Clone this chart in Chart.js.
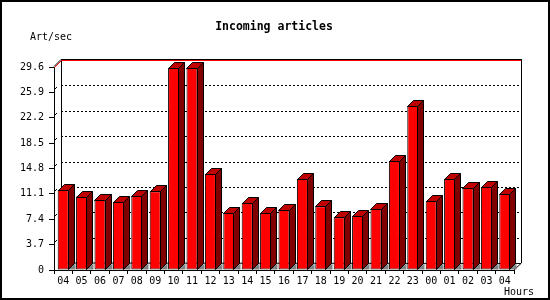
<!DOCTYPE html>
<html lang="en">
<head>
  <meta charset="UTF-8">
  <title>Incoming articles</title>
  <script src="https://cdn.jsdelivr.net/npm/chart.js"></script>
  <style>
    body { margin: 0; background: #fff; }
    #chart-container { width: 550px; height: 300px; }
  </style>
</head>
<body>

<div id="chart-container">
  <canvas id="chart" width="550" height="300"></canvas>
</div>

<script>
  // hours of the day (x axis) and incoming articles per second
  const hours = ['04', '05', '06', '07', '08', '09', '10', '11', '12', '13', '14', '15', '16',
                 '17', '18', '19', '20', '21', '22', '23', '00', '01', '02', '03', '04'];
  const artPerSec = [11.7, 10.7, 10.2, 9.9, 10.8, 11.5, 29.5, 29.5, 14.0, 8.3, 9.8, 8.3, 8.8,
                     13.3, 9.3, 7.7, 7.9, 8.9, 15.9, 23.9, 10.1, 13.3, 12.0, 12.1, 11.1];
  const yTicks = [0, 3.7, 7.4, 11.1, 14.8, 18.5, 22.2, 25.9, 29.6];

  const titleText = 'Incoming articles';
  const yUnit = 'Art/sec';
  const xUnit = 'Hours';

  const DEPTH = 7;      // depth of the back wall
  const BAR_DEPTH = 6;  // depth of each bar
  const monoFont = '"DejaVu Sans Mono", "Liberation Mono", monospace';

  // back wall, grid lines, 3d bar faces, texts and border
  const pseudo3d = {
    id: 'pseudo3d',
    beforeDatasetsDraw(chart) {
      const ctx = chart.ctx;
      const area = chart.chartArea;
      const y = chart.scales.y;
      ctx.save();
      ctx.lineWidth = 1;

      // dotted grid lines on the back wall
      ctx.strokeStyle = '#000';
      ctx.setLineDash([2, 2]);
      yTicks.slice(1, -1).forEach(v => {
        const py = Math.round(y.getPixelForValue(v)) - DEPTH + 0.5;
        ctx.beginPath();
        ctx.moveTo(area.left + DEPTH, py);
        ctx.lineTo(area.right + DEPTH, py);
        ctx.stroke();
      });
      ctx.setLineDash([]);

      // walls
      const top = Math.round(area.top) - DEPTH;
      const bottom = Math.round(area.bottom) - DEPTH;
      ctx.beginPath();
      ctx.moveTo(area.left + DEPTH + 0.5, top);
      ctx.lineTo(area.left + DEPTH + 0.5, bottom);
      ctx.lineTo(area.right + DEPTH, bottom + 0.5);
      ctx.moveTo(area.right + DEPTH + 0.5, top);
      ctx.lineTo(area.right + DEPTH + 0.5, bottom);
      ctx.lineTo(area.right, area.bottom);
      ctx.stroke();

      // top line (max value), black with red under it
      ctx.beginPath();
      ctx.moveTo(area.left, area.top - 0.5);
      ctx.lineTo(area.left + DEPTH, top - 0.5);
      ctx.lineTo(area.right + DEPTH + 1, top - 0.5);
      ctx.stroke();
      ctx.strokeStyle = '#f00';
      ctx.beginPath();
      ctx.moveTo(area.left + 0.5, area.top + 0.5);
      ctx.lineTo(area.left + DEPTH + 0.5, top + 0.5);
      ctx.lineTo(area.right + DEPTH, top + 0.5);
      ctx.stroke();

      // small diagonal marks at the ticks on the front axis
      ctx.strokeStyle = '#000';
      yTicks.slice(1, -1).forEach(v => {
        const py = Math.round(y.getPixelForValue(v));
        ctx.beginPath();
        ctx.moveTo(area.left + 1, py - 3);
        ctx.lineTo(area.left + 3, py - 5);
        ctx.stroke();
      });
      ctx.restore();
    },
    afterDatasetsDraw(chart) {
      const ctx = chart.ctx;
      const meta = chart.getDatasetMeta(0);
      const d = BAR_DEPTH;
      ctx.save();
      ctx.lineWidth = 1;
      ctx.strokeStyle = '#000';
      meta.data.forEach(bar => {
        const p = bar.getProps(['x', 'y', 'base', 'width'], true);
        const l = Math.round(p.x - p.width / 2) + 0.5;
        const r = Math.round(p.x + p.width / 2) - 0.5;
        const t = Math.round(p.y) + 0.5;
        const b = Math.round(p.base) - 0.5;

        // floor shadow
        ctx.fillStyle = '#808080';
        ctx.beginPath();
        ctx.moveTo(r, b);
        ctx.lineTo(r + d + 1, b);
        ctx.lineTo(r + d + 1, b - d);
        ctx.closePath();
        ctx.fill();

        // side face
        ctx.fillStyle = '#800000';
        ctx.beginPath();
        ctx.moveTo(r, t);
        ctx.lineTo(r + d, t - d);
        ctx.lineTo(r + d, b - d);
        ctx.lineTo(r, b);
        ctx.closePath();
        ctx.fill();
        ctx.stroke();

        // top face
        ctx.fillStyle = '#c00000';
        ctx.beginPath();
        ctx.moveTo(l, t);
        ctx.lineTo(l + d, t - d);
        ctx.lineTo(r + d, t - d);
        ctx.lineTo(r, t);
        ctx.closePath();
        ctx.fill();
        ctx.stroke();
      });
      ctx.restore();
    },
    afterDraw(chart) {
      const ctx = chart.ctx;
      ctx.save();
      ctx.fillStyle = '#000';
      ctx.textBaseline = 'middle';
      ctx.textAlign = 'center';
      ctx.font = 'bold 11.5px ' + monoFont;
      ctx.fillText(titleText, 274, 27);
      ctx.font = '10px ' + monoFont;
      ctx.textAlign = 'left';
      ctx.fillText(yUnit, 30, 37);
      ctx.fillText(xUnit, 504, 292);
      ctx.lineWidth = 2;
      ctx.strokeStyle = '#000';
      ctx.strokeRect(1, 1, 548, 298);
      ctx.restore();
    }
  };

  const ctx = document.getElementById('chart').getContext('2d');
  const chart = new Chart(ctx, {
    type: 'bar',
    data: {
      labels: hours,
      datasets: [{
        label: yUnit,
        data: artPerSec,
        backgroundColor: '#ff0000',
        borderColor: '#000',
        borderWidth: 1,
        borderSkipped: false,
        categoryPercentage: 1,
        barPercentage: 0.6
      }]
    },
    options: {
      responsive: false,
      animation: false,
      events: [],
      layout: { padding: { left: 0, right: 36, top: 67, bottom: 0 } },
      plugins: {
        legend: { display: false },
        title: { display: false },
        tooltip: { enabled: false }
      },
      scales: {
        x: {
          offset: true,
          grid: {
            offset: true,
            drawOnChartArea: false,
            color: '#000',
            tickLength: 4
          },
          border: { color: '#000', width: 1 },
          ticks: {
            color: '#000',
            font: { family: monoFont, size: 10 },
            padding: 1,
            maxRotation: 0,
            autoSkip: false
          },
          afterFit(scale) { scale.height = 30; }
        },
        y: {
          min: 0,
          max: 29.6,
          grid: {
            drawOnChartArea: false,
            color: '#000',
            tickLength: 5
          },
          border: { color: '#000', width: 1 },
          ticks: {
            color: '#000',
            font: { family: monoFont, size: 10 },
            padding: 5,
            callback: v => (v === 0 ? '0' : v.toFixed(1))
          },
          afterBuildTicks(scale) {
            scale.ticks = yTicks.map(v => ({ value: v }));
          },
          afterFit(scale) { scale.width = 54; }
        }
      }
    },
    plugins: [pseudo3d]
  });
</script>

</body>
</html>
